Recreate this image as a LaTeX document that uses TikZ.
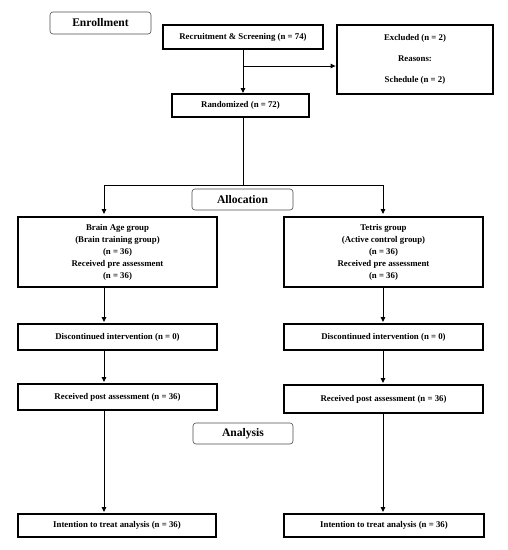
\documentclass[tikz,border=0pt]{standalone}
\usepackage{fontspec}
\setmainfont{Liberation Serif}
\usetikzlibrary{arrows.meta}
\begin{document}
\begin{tikzpicture}[x=1pt,y=-1pt,
  thickbox/.style={draw, line width=2.8pt, inner sep=0pt, align=center,
    font=\fontsize{8.8}{12}\selectfont\bfseries},
  phase/.style={draw=black!70, line width=0.6pt, rounded corners=3pt, inner sep=0pt,
    font=\fontsize{11.6}{13}\selectfont\bfseries},
  conn/.style={line width=1pt, -{Triangle[length=5pt,width=4.5pt]}},
  plain/.style={line width=1pt}]
\useasboundingbox (0,0) rectangle (508,550);
% phase labels
\node[phase, minimum width=101pt, minimum height=22pt] (enr) at (100.5,23) {Enrollment};
\node[phase, minimum width=101pt, minimum height=21pt] (alloc) at (242.5,199.5) {Allocation};
\node[phase, minimum width=100pt, minimum height=21pt] (anal) at (243,433.5) {Analysis};
% boxes
\node[thickbox, minimum width=160pt, minimum height=24pt] (rec) at (243,37) {Recruitment \& Screening (n = 74)};
\node[thickbox, minimum width=156pt, minimum height=69pt, font=\fontsize{8.8}{21}\selectfont\bfseries] (excl) at (415,59.5) {Excluded (n = 2)\\Reasons:\\Schedule (n = 2)};
\node[thickbox, minimum width=137pt, minimum height=23pt] (rand) at (240.5,105.5) {Randomized (n = 72)};
\node[thickbox, minimum width=199pt, minimum height=70pt] (ba) at (117.5,252) {Brain Age group\\(Brain training group)\\(n = 36)\\Received pre assessment\\(n = 36)};
\node[thickbox, minimum width=199pt, minimum height=70pt] (te) at (383.5,252) {Tetris group\\(Active control group)\\(n = 36)\\Received pre assessment\\(n = 36)};
\node[thickbox, minimum width=199pt, minimum height=26pt] (dl) at (117.5,337) {Discontinued intervention (n = 0)};
\node[thickbox, minimum width=199pt, minimum height=26pt] (dr) at (383.5,337) {Discontinued intervention (n = 0)};
\node[thickbox, minimum width=199pt, minimum height=26pt] (pl) at (117.5,397) {Received post assessment (n = 36)};
\node[thickbox, minimum width=199pt, minimum height=28pt] (pr) at (383.5,399) {Received post assessment (n = 36)};
\node[thickbox, minimum width=198pt, minimum height=23pt] (il) at (117,525.5) {Intention to treat analysis (n = 36)};
\node[thickbox, minimum width=200pt, minimum height=23pt] (ir) at (384,525.5) {Intention to treat analysis (n = 36)};
% connectors
\coordinate (recb) at (243,50);
\coordinate (br) at (243,66);
\coordinate (sp) at (243,185);
\coordinate (spl) at (104,185);
\coordinate (spr) at (383,185);
\draw[conn] (recb) -- (243,93);
\draw[conn] (br) -- (excl.west |- br);
\draw[plain] (243,118) -- (sp);
\draw[plain] (spl) -- (spr);
\draw[conn] (spl) -- (104,214);
\draw[conn] (spr) -- (383,214);
\draw[conn] (104,288) -- (104,322);
\draw[conn] (383,288) -- (383,322);
\draw[conn] (104,351) -- (104,382);
\draw[conn] (383,351) -- (383,383);
\draw[conn] (104,411) -- (104,512);
\draw[conn] (383,414) -- (383,512);
\end{tikzpicture}
\end{document}
